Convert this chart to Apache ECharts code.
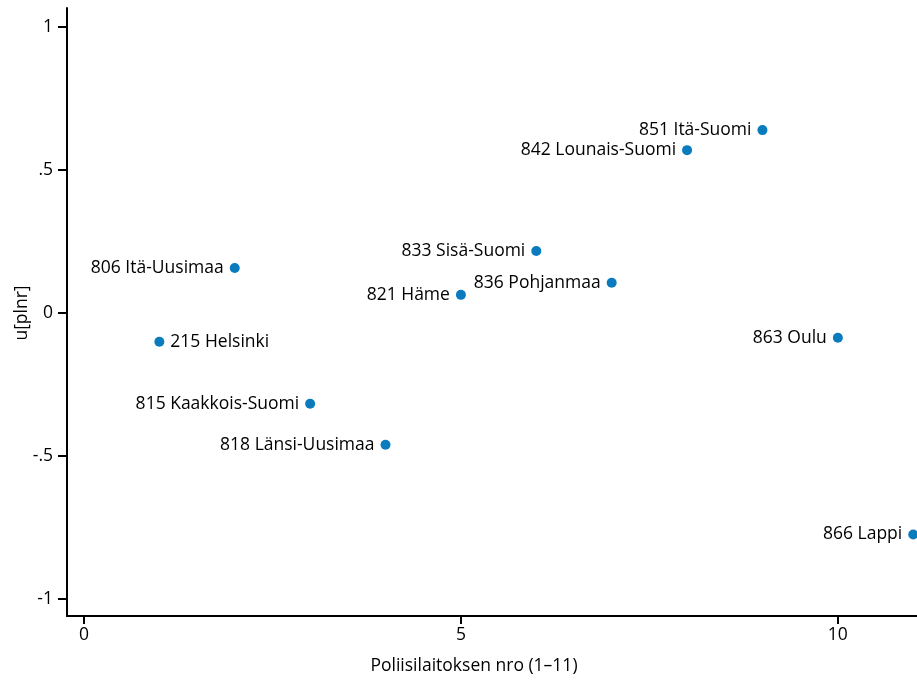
<!DOCTYPE html>
<html>
<head>
<meta charset="utf-8">
<script src="https://cdn.jsdelivr.net/npm/echarts@6/dist/echarts.min.js"></script>
<style>
html,body{margin:0;padding:0;background:#fff;}
#chart{width:917px;height:681px;}
</style>
</head>
<body>
<div id="chart"></div>
<script>
const xValues = [1, 2, 3, 4, 5, 6, 7, 8, 9, 10, 11];
const yValues = [-0.101, 0.157, -0.318, -0.461, 0.063, 0.216, 0.105, 0.569, 0.639, -0.087, -0.775];
const pointLabels = ['215 Helsinki', '806 Itä-Uusimaa', '815 Kaakkois-Suomi', '818 Länsi-Uusimaa', '821 Häme', '833 Sisä-Suomi', '836 Pohjanmaa', '842 Lounais-Suomi', '851 Itä-Suomi', '863 Oulu', '866 Lappi'];
const labelSides = ['right', 'left', 'left', 'left', 'left', 'left', 'left', 'left', 'left', 'left', 'left'];
const xTicks = [0, 5, 10];
const yTicks = [-1, -0.5, 0, 0.5, 1];
const yTickLabels = ['-1', '-.5', '0', '.5', '1'];
const xTitle = 'Poliisilaitoksen nro (1–11)';
const yTitle = 'u[plnr]';

const FONT = 'Open Sans';
const FS = 17.5;
const data = xValues.map((x, i) => ({
  value: [x, yValues[i]],
  label: { position: labelSides[i] }
}));

const chart = echarts.init(document.getElementById('chart'), null, {renderer: 'canvas'});
chart.setOption({
  animation: false,
  backgroundColor: '#fff',
  grid: { left: 67, right: 0, top: 8, bottom: 65, containLabel: false },
  xAxis: {
    type: 'value',
    min: -0.225, max: 11.05,
    splitLine: { show: false },
    axisLine: { show: true, onZero: false, lineStyle: { color: '#000', width: 2 } },
    axisTick: { show: true, customValues: xTicks, length: 8, lineStyle: { color: '#000', width: 2 } },
    axisLabel: { show: true, customValues: xTicks, color: '#000', fontFamily: FONT, fontSize: FS, margin: 10,
      formatter: v => String(v) }
  },
  yAxis: {
    type: 'value',
    min: -1.06, max: 1.066,
    splitLine: { show: false },
    axisLine: { show: true, onZero: false, lineStyle: { color: '#000', width: 2 } },
    axisTick: { show: true, customValues: yTicks, length: 9, lineStyle: { color: '#000', width: 2 } },
    axisLabel: { show: true, customValues: yTicks, color: '#000', fontFamily: FONT, fontSize: FS, margin: 14,
      formatter: v => { const i = yTicks.findIndex(t => Math.abs(t - v) < 1e-9); return i >= 0 ? yTickLabels[i] : ''; } }
  },
  graphic: [
    { type: 'text', x: 474, y: 666, style: { text: xTitle, fill: '#000', font: FS + 'px "' + FONT + '"', textAlign: 'center', textVerticalAlign: 'middle' } },
    { type: 'text', x: 22, y: 313, rotation: Math.PI / 2, style: { text: yTitle, fill: '#000', font: FS + 'px "' + FONT + '"', textAlign: 'center', textVerticalAlign: 'middle' } }
  ],
  series: [{
    type: 'scatter',
    symbol: 'circle',
    symbolSize: 10,
    itemStyle: { color: '#0a7bbd', opacity: 1 },
    clip: false,
    data: data,
    label: {
      show: true,
      distance: 6,
      color: '#000',
      fontFamily: FONT,
      fontSize: FS,
      formatter: p => pointLabels[p.dataIndex]
    }
  }]
});
</script>
</body>
</html>
